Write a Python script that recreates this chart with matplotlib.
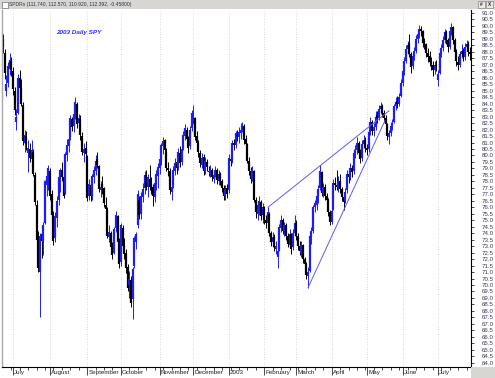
import numpy as np
import matplotlib
matplotlib.use('Agg')
import matplotlib.pyplot as plt
from matplotlib.patches import Rectangle

# daily bars, index 0 = first trading day of July 2002
bar_start = -6
opens = [89.0, 87.9, 85.0, 85.6, 86.7, 87.3, 86.5, 85.0, 82.6, 83.3,
         86.0, 85.2, 83.9, 81.0, 81.5, 80.2, 80.5, 79.7, 80.3, 78.5,
         76.2, 73.6, 71.0, 73.9, 73.3, 74.8, 77.7, 78.2, 78.8, 77.0,
         75.4, 73.6, 75.2, 76.6, 78.1, 78.9, 78.3, 77.1, 80.0, 80.7,
         81.4, 82.8, 82.3, 83.2, 84.0, 82.5, 82.8, 81.5, 80.2, 80.6,
         79.9, 76.9, 77.7, 76.9, 78.3, 78.8, 79.7, 79.2, 77.3, 77.8,
         77.5, 76.2, 75.8, 73.7, 74.0, 72.9, 72.5, 74.4, 75.3, 73.3,
         71.8, 74.4, 73.1, 72.5, 71.4, 70.0, 70.4, 68.9, 71.5, 73.3,
         74.6, 76.6, 75.5, 76.8, 77.5, 78.5, 77.6, 78.2, 77.8, 77.6,
         76.8, 77.8, 78.4, 79.0, 79.6, 80.7, 81.2, 80.3, 79.0, 78.8,
         77.2, 77.7, 78.8, 79.5, 79.1, 80.2, 79.5, 80.6, 81.5, 82.0,
         81.3, 80.7, 82.1, 82.6, 82.9, 81.5, 81.0, 80.2, 79.3, 79.9,
         78.8, 79.5, 78.8, 78.6, 78.9, 78.2, 78.5, 78.9, 78.0, 78.6,
         78.0, 77.5, 76.9, 77.5, 77.3, 79.7, 79.6, 81.0, 80.8, 81.6,
         81.4, 81.7, 82.0, 82.3, 81.3, 80.9, 79.6, 78.8, 78.2, 78.8,
         76.6, 75.5, 76.1, 76.4, 75.4, 76.0, 75.0, 74.8, 75.5, 74.0,
         73.3, 73.7, 72.8, 72.2, 72.7, 74.4, 75.0, 74.2, 74.6, 73.8,
         73.1, 73.9, 72.9, 74.0, 74.8, 73.8, 73.0, 72.5, 73.1, 72.0,
         71.6, 70.7, 71.1, 73.7, 74.2, 76.0, 76.2, 76.9, 77.5, 78.7,
         77.1, 77.6, 76.9, 76.6, 75.6, 74.9, 75.9, 77.9, 77.7, 77.6,
         78.0, 77.4, 76.8, 76.5, 77.3, 78.6, 78.3, 79.0, 78.8, 80.1,
         80.4, 81.0, 80.2, 79.8, 80.9, 81.2, 80.6, 80.5, 81.8, 82.6,
         81.9, 82.2, 83.1, 82.9, 83.6, 83.8, 83.3, 82.9, 82.4, 81.4,
         81.7, 82.3, 82.6, 83.8, 84.2, 84.0, 84.6, 85.6, 86.5, 87.3,
         88.2, 88.7, 87.8, 86.9, 87.7, 88.1, 89.0, 89.4, 89.8, 89.6,
         88.8, 88.6, 87.9, 87.7, 87.2, 87.0, 86.6, 87.0, 85.8, 86.4,
         87.9, 88.3, 88.9, 89.5, 88.9, 88.4, 89.6, 89.9, 88.9, 88.0,
         87.2, 87.0, 87.8, 88.1, 87.6, 88.4, 88.6, 88.0]
highs = [89.4, 88.2, 86.2, 87.2, 87.9, 87.6, 86.8, 85.3, 83.6, 86.3,
         86.6, 85.9, 84.1, 82.0, 81.9, 81.2, 81.0, 81.2, 80.5, 78.7,
         76.6, 74.2, 74.0, 74.6, 74.9, 78.1, 78.8, 79.3, 79.0, 77.3,
         75.7, 75.6, 76.9, 78.6, 79.0, 79.5, 78.8, 80.3, 81.3, 81.6,
         83.1, 83.0, 83.5, 84.5, 84.1, 83.2, 83.1, 81.8, 81.0, 81.1,
         80.0, 78.2, 77.9, 78.6, 79.2, 80.0, 80.3, 79.3, 78.0, 78.4,
         77.6, 76.8, 76.0, 74.6, 74.2, 73.3, 74.5, 75.7, 75.4, 73.6,
         74.8, 74.6, 73.6, 72.8, 71.6, 71.1, 70.7, 71.4, 73.8, 74.1,
         77.3, 76.9, 77.2, 77.9, 78.8, 78.9, 78.6, 79.3, 78.3, 77.8,
         78.2, 78.9, 79.4, 80.0, 81.0, 81.4, 81.3, 80.6, 79.5, 79.0,
         78.0, 79.2, 79.8, 79.9, 80.6, 80.7, 80.8, 81.9, 82.4, 82.2,
         81.5, 82.3, 83.5, 83.9, 83.0, 81.9, 81.2, 80.4, 80.2, 80.1,
         79.9, 79.7, 79.2, 79.3, 79.0, 78.8, 79.2, 79.0, 78.9, 78.7,
         78.2, 77.7, 77.7, 77.8, 80.1, 80.2, 81.2, 81.3, 81.9, 82.0,
         82.2, 82.5, 82.6, 82.4, 81.6, 81.0, 79.9, 79.1, 79.2, 78.9,
         76.8, 76.5, 76.9, 76.6, 76.3, 76.1, 75.4, 76.0, 75.6, 74.2,
         74.1, 73.9, 73.4, 73.0, 74.7, 75.4, 75.2, 74.9, 74.8, 74.0,
         74.3, 74.0, 74.3, 75.4, 75.0, 74.0, 73.4, 73.4, 73.2, 72.2,
         71.8, 71.4, 74.0, 74.5, 76.2, 76.6, 77.2, 77.7, 79.3, 78.8,
         77.9, 77.8, 77.1, 76.7, 75.8, 76.0, 78.2, 78.3, 78.9, 78.4,
         78.6, 77.6, 77.0, 77.5, 78.9, 78.9, 79.4, 79.3, 80.5, 80.8,
         81.4, 81.1, 80.5, 81.2, 81.6, 81.4, 80.9, 82.0, 83.0, 82.7,
         82.5, 83.4, 83.4, 83.9, 84.1, 84.0, 83.5, 83.1, 82.5, 82.0,
         82.6, 82.8, 84.0, 84.5, 84.6, 84.8, 85.9, 86.8, 87.6, 88.5,
         88.8, 89.4, 88.0, 88.0, 88.4, 89.3, 89.7, 90.1, 90.0, 89.7,
         89.1, 88.7, 88.3, 88.1, 87.6, 87.3, 87.3, 87.4, 86.6, 88.1,
         88.6, 89.2, 89.8, 89.7, 89.1, 89.9, 90.2, 90.0, 89.1, 88.2,
         87.7, 88.1, 88.6, 88.3, 88.7, 88.9, 88.8, 88.4]
lows = [87.9, 85.9, 84.6, 85.3, 86.2, 86.1, 84.7, 83.1, 82.0, 83.2,
        84.9, 83.8, 80.8, 80.3, 80.4, 78.7, 79.5, 79.4, 78.4, 76.2,
        73.2, 71.0, 67.5, 72.1, 72.3, 74.7, 76.9, 77.3, 76.6, 74.9,
        73.1, 73.3, 74.5, 76.2, 77.2, 78.0, 76.7, 77.0, 79.6, 80.3,
        81.2, 81.9, 81.8, 82.8, 82.1, 82.0, 81.2, 80.0, 79.5, 79.9,
        76.5, 76.6, 76.5, 76.6, 77.9, 78.5, 79.0, 77.2, 76.8, 77.0,
        76.0, 75.6, 73.6, 73.3, 72.6, 72.0, 72.4, 74.1, 73.0, 71.3,
        71.5, 72.8, 72.0, 70.9, 69.5, 69.0, 68.3, 67.4, 71.3, 72.8,
        74.4, 75.1, 75.1, 76.4, 77.0, 77.3, 76.8, 77.3, 77.0, 76.1,
        76.4, 77.3, 77.5, 78.6, 79.3, 80.1, 80.1, 78.8, 78.4, 77.0,
        76.6, 77.5, 78.5, 78.6, 78.9, 79.1, 79.3, 80.4, 81.2, 81.0,
        80.2, 80.5, 81.9, 82.4, 81.2, 80.7, 79.9, 79.1, 79.0, 78.5,
        78.6, 78.8, 78.4, 78.3, 78.0, 77.9, 78.3, 77.8, 77.7, 77.7,
        77.2, 76.6, 76.6, 76.7, 77.1, 79.2, 79.4, 80.4, 80.6, 81.1,
        81.0, 81.3, 81.8, 80.9, 80.6, 79.4, 78.5, 77.9, 78.0, 76.4,
        75.2, 75.0, 75.4, 75.0, 74.8, 74.7, 74.4, 74.6, 73.8, 73.0,
        72.9, 72.6, 72.4, 71.3, 72.6, 74.1, 73.9, 73.8, 73.5, 72.9,
        72.9, 72.4, 72.7, 73.8, 73.5, 72.7, 72.3, 72.2, 71.7, 71.3,
        70.5, 69.8, 71.0, 73.2, 74.0, 75.6, 75.8, 76.3, 77.3, 76.9,
        76.8, 76.6, 76.2, 75.3, 74.6, 74.7, 75.8, 77.3, 77.3, 77.2,
        77.1, 76.5, 75.8, 76.3, 77.1, 77.9, 78.1, 78.3, 78.6, 79.8,
        80.1, 79.9, 79.4, 79.6, 80.6, 80.3, 80.0, 80.3, 81.6, 81.6,
        81.5, 82.0, 82.5, 82.7, 83.2, 83.0, 82.6, 82.1, 81.2, 80.9,
        81.5, 82.0, 82.5, 83.5, 83.7, 83.8, 84.5, 85.4, 86.2, 87.1,
        87.8, 87.6, 86.4, 86.7, 87.4, 87.9, 88.7, 89.1, 89.2, 88.4,
        88.2, 87.6, 87.2, 86.9, 86.6, 86.1, 86.3, 86.5, 85.4, 86.3,
        87.6, 88.1, 88.7, 88.6, 88.0, 88.2, 89.3, 88.6, 87.7, 86.9,
        86.6, 86.8, 87.5, 87.3, 87.4, 88.1, 87.7, 87.4]
closes = [88.4, 86.4, 85.5, 86.9, 87.4, 86.6, 85.1, 83.5, 83.0, 86.0,
          85.2, 84.0, 81.1, 81.6, 80.9, 80.6, 79.8, 80.4, 78.6, 76.4,
          73.5, 71.3, 73.8, 73.4, 74.6, 78.0, 78.4, 79.0, 76.9, 75.4,
          73.4, 75.3, 76.5, 78.3, 78.9, 78.3, 76.9, 80.1, 80.8, 81.3,
          82.9, 82.2, 83.2, 84.1, 82.4, 82.9, 81.6, 80.3, 80.5, 80.1,
          76.7, 77.8, 76.9, 78.4, 78.9, 79.6, 79.3, 77.4, 77.6, 77.5,
          76.3, 75.9, 73.8, 74.1, 72.9, 72.3, 74.3, 75.4, 73.3, 71.6,
          74.6, 73.0, 72.4, 71.3, 69.8, 70.5, 68.6, 71.2, 73.6, 73.9,
          77.0, 75.4, 76.9, 77.4, 78.5, 77.6, 78.3, 77.6, 77.6, 76.9,
          77.9, 78.6, 79.1, 79.7, 80.8, 81.1, 80.4, 79.0, 78.9, 77.3,
          77.6, 78.9, 79.4, 79.0, 80.3, 79.4, 80.5, 81.6, 82.1, 81.3,
          80.6, 82.0, 83.3, 83.0, 81.4, 81.0, 80.3, 79.4, 79.8, 78.8,
          79.6, 79.1, 78.7, 78.9, 78.3, 78.5, 78.9, 78.1, 78.6, 78.0,
          77.5, 76.9, 77.4, 77.0, 79.8, 79.6, 81.0, 80.8, 81.7, 81.5,
          81.8, 82.0, 82.3, 81.2, 80.9, 79.6, 78.8, 78.2, 78.9, 76.6,
          75.6, 76.2, 76.5, 75.3, 76.0, 75.0, 74.8, 75.6, 74.0, 73.3,
          73.7, 72.9, 73.0, 72.6, 74.5, 75.0, 74.2, 74.6, 73.8, 73.2,
          73.9, 72.8, 74.0, 74.8, 73.8, 73.0, 72.6, 73.1, 72.0, 71.6,
          70.8, 71.0, 73.8, 74.2, 76.0, 76.3, 76.9, 77.4, 78.8, 77.1,
          77.6, 76.9, 76.6, 75.6, 74.9, 75.7, 77.9, 77.7, 77.6, 78.0,
          77.4, 76.8, 76.4, 77.2, 78.6, 78.3, 79.0, 78.7, 80.2, 80.4,
          81.0, 80.2, 79.7, 80.9, 81.2, 80.6, 80.4, 81.8, 82.6, 81.9,
          82.2, 83.0, 82.9, 83.6, 83.8, 83.3, 82.9, 82.4, 81.5, 81.7,
          82.3, 82.5, 83.8, 84.1, 84.0, 84.5, 85.6, 86.5, 87.3, 88.2,
          88.5, 87.8, 86.8, 87.7, 88.1, 89.0, 89.4, 89.8, 89.6, 88.7,
          88.6, 87.9, 87.6, 87.2, 87.0, 86.6, 87.0, 86.9, 86.3, 87.9,
          88.3, 88.9, 89.5, 88.9, 88.4, 89.6, 89.9, 88.9, 88.0, 87.3,
          87.0, 87.8, 88.1, 87.6, 88.4, 88.6, 88.0, 87.8]

# month labels and the bar index where each month starts
month_labels = ['July', 'August', 'September', 'October', 'November', 'December',
                '2003', 'February', 'March', 'April', 'May', 'June', 'July']
month_starts = [0, 22, 44, 64, 87, 107, 128, 149, 168, 189, 210, 231, 252]

# wedge drawn on the chart (bar index, price)
wedge_top_x = [151.2, 223.0]
wedge_top_y = [76.0, 83.45]
wedge_bot_x = [175.0, 220.6]
wedge_bot_y = [69.8, 82.7]

o = np.array(opens)
h = np.array(highs)
l = np.array(lows)
c = np.array(closes)
x = np.arange(bar_start, bar_start + len(c))

W, H = 495, 378
fig = plt.figure(figsize=(W / 100, H / 100), dpi=100)
fig.patch.set_facecolor('white')
plt.rcParams['font.family'] = 'Liberation Sans'

ax = fig.add_axes([2 / W, 11 / H, 469 / W, 357 / H])

blue = '#1c1cff'
cols = np.where(c >= o, blue, 'black')
ax.vlines(x, l, h, colors=cols, lw=0.7)
ax.vlines(x, np.minimum(o, c), np.maximum(o, c), colors=cols, lw=1.6)

ax.plot(wedge_top_x, wedge_top_y, color='#5a5aff', lw=0.7)
ax.plot(wedge_bot_x, wedge_bot_y, color='#5a5aff', lw=0.7)

ax.set_xlim(-6.52, 271.6)
ax.set_ylim(63.67, 91.23)

# month grid + ticks
ax.set_xticks(month_starts)
ax.set_xticklabels([])
ax.set_xticks(np.arange(-1, 272, 5), minor=True)
ax.tick_params(axis='x', which='major', length=6, width=0.5, direction='out')
ax.tick_params(axis='x', which='minor', length=2.2, width=0.5, direction='out')
ax.grid(axis='x', which='major', ls=(0, (1, 2)), color='#c8c8c8', lw=0.6)
for pos, lab in zip(month_starts, month_labels):
    ax.text(pos + 0.7, -0.016, lab, transform=ax.get_xaxis_transform(),
            ha='left', va='center', fontsize=4.5, color='#202020')

ax.yaxis.tick_right()
yt = np.arange(64.0, 91.01, 0.5)
ax.set_yticks(yt)
ax.set_yticklabels(['%.1f' % v for v in yt], fontsize=4.4, color='#3a3a5a')
ax.tick_params(axis='y', length=2.5, width=0.5, pad=5)

ax.spines['top'].set_visible(False)
ax.spines['left'].set_color('#a8a8a8')
ax.spines['left'].set_linewidth(1.0)
ax.spines['right'].set_linewidth(0.8)
ax.spines['bottom'].set_linewidth(0.8)

ax.text(0.1645, 0.938, '2003 Daily SPY', transform=ax.transAxes, ha='center',
        va='center', fontsize=4.6, fontweight='bold', style='italic', color='#2b2bff')

# window title bar
fig.patches.append(Rectangle((0, 1 - 9 / H), 1, 9 / H, transform=fig.transFigure,
                             facecolor='#d8d6d2', edgecolor='none', zorder=0))
fig.patches.append(Rectangle((2 / W, 1 - 8 / H), 6 / W, 6 / H, transform=fig.transFigure,
                             facecolor='white', edgecolor='#505050', lw=0.4))
fig.text(9 / W, 1 - 4.5 / H, 'SPDRs (111.740, 112.570, 110.920, 112.392, -0.45800)',
         fontsize=3.6, color='#303048', va='center', ha='left')
for bx, sym in [(478, '#'), (486, 'X')]:
    fig.patches.append(Rectangle((bx / W, 1 - 8 / H), 7 / W, 7 / H, transform=fig.transFigure,
                                 facecolor='#ece9e4', edgecolor='#707070', lw=0.4))
    fig.text((bx + 3.5) / W, 1 - 4.5 / H, sym, fontsize=3.4, ha='center', va='center',
             color='#202020', fontweight='bold')

# grey corner under the price scale
fig.patches.append(Rectangle((471 / W, 0), 24 / W, 11 / H, transform=fig.transFigure,
                             facecolor='#d8d6d2', edgecolor='none', zorder=0))

fig.savefig('out.png', dpi=100)
